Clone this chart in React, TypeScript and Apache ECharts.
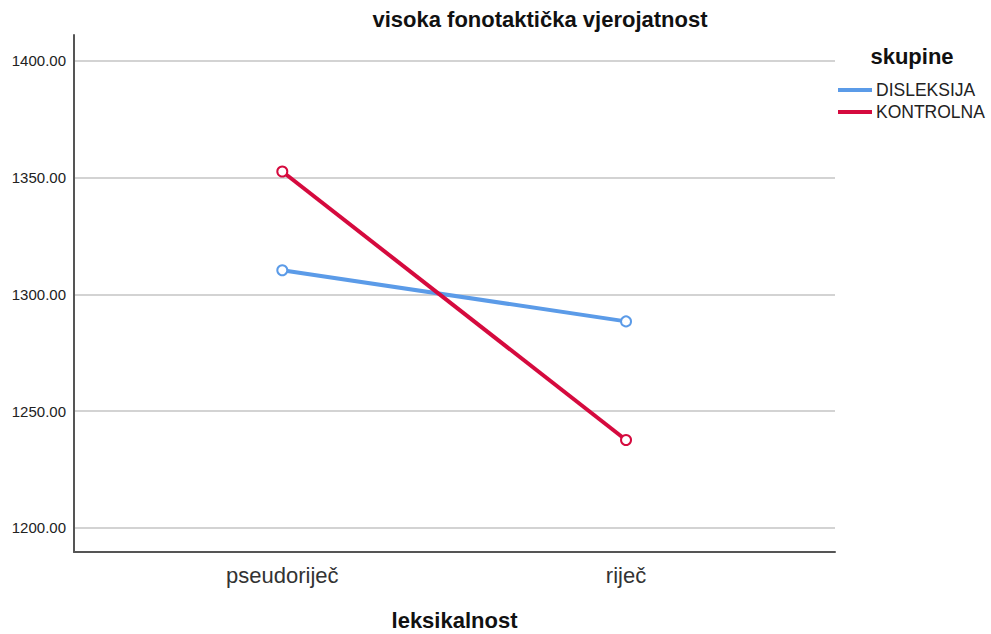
import React, { useEffect, useRef } from "react";
import * as echarts from "echarts";

const categories = ["pseudoriječ", "riječ"];
const seriesNames = ["DISLEKSIJA", "KONTROLNA"];
const disleksija = [1310.3, 1288.4];
const kontrolna = [1352.6, 1237.6];
const yTicks = [1200, 1250, 1300, 1350, 1400];
const colors = ["#5b9be8", "#d50a3e"];
const markerColors = ["#79adee", "#dc4068"];

export default function App() {
  const ref = useRef<HTMLDivElement>(null);
  useEffect(() => {
    if (!ref.current) return;
    const chart = echarts.init(ref.current, null, { renderer: "svg" });
    const font = "'Liberation Sans', Arial, sans-serif";
    const values = [disleksija, kontrolna];
    chart.setOption({
      animation: false,
      textStyle: { fontFamily: font },
      title: [
        {
          text: "visoka fonotaktička vjerojatnost",
          left: 540,
          top: 8,
          padding: 0,
          textAlign: "center",
          textStyle: { fontFamily: font, fontSize: 22, fontWeight: "bold", color: "#111" },
        },
        {
          text: "skupine",
          left: 912,
          top: 45,
          padding: 0,
          textAlign: "center",
          textStyle: { fontFamily: font, fontSize: 22, fontWeight: "bold", color: "#111" },
        },
      ],
      legend: {
        orient: "vertical",
        left: 838,
        top: 81,
        padding: 0,
        itemWidth: 34,
        itemHeight: 4,
        itemGap: 4,
        icon: "rect",
        data: seriesNames,
        itemStyle: { borderWidth: 0 },
        textStyle: { fontFamily: font, fontSize: 17.5, color: "#222", lineHeight: 18, padding: [0, 0, 0, -1] },
      },
      grid: { left: 74, right: 156, top: 35, bottom: 82, containLabel: false, outerBoundsMode: "none" },
      xAxis: {
        type: "value",
        min: -0.606,
        max: 1.608,
        name: "leksikalnost",
        nameLocation: "middle",
        nameGap: 57,
        nameTextStyle: { fontFamily: font, fontSize: 22, fontWeight: "bold", color: "#111" },
        axisLine: { show: true, onZero: false, lineStyle: { color: "#555", width: 2 } },
        axisTick: { show: false, customValues: [0, 1] },
        splitLine: { show: false },
        axisLabel: {
          customValues: [0, 1],
          formatter: (v: number) => categories[Math.round(v)] ?? "",
          fontFamily: font,
          fontSize: 22,
          color: "#333",
          margin: 12,
        },
      },
      yAxis: {
        type: "value",
        min: 1189.6,
        max: 1411.1,
        axisLine: { show: true, onZero: false, lineStyle: { color: "#555", width: 2 } },
        axisTick: { show: false, customValues: yTicks },
        axisLabel: {
          customValues: yTicks,
          formatter: (v: number) => v.toFixed(2),
          fontFamily: font,
          fontSize: 15,
          color: "#222",
          margin: 8,
        },
        splitLine: { show: true, lineStyle: { color: "#c4c4c4", width: 1.5 } },
      },
      series: seriesNames.map((name, si) => ({
        name,
        type: "line",
        data: values[si].map((v, i) => [i, v]),
        symbol: "emptyCircle",
        symbolSize: 10,
        color: colors[si],
        lineStyle: { color: colors[si], width: 4 },
        itemStyle: { color: colors[si], borderColor: markerColors[si], borderWidth: 1.5 },
        z: 2 + si,
      })),
    });
    return () => chart.dispose();
  }, []);
  return <div ref={ref} style={{ width: 991, height: 634, position: "absolute", left: 0, top: 0 }} />;
}
